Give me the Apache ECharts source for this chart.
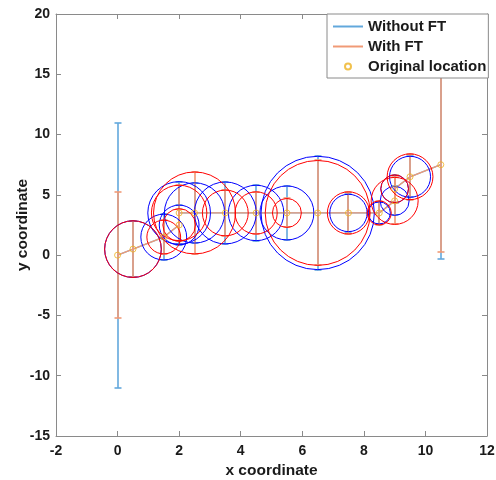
<!DOCTYPE html>
<html><head><meta charset="utf-8">
<script src="https://cdn.jsdelivr.net/npm/echarts@6/dist/echarts.min.js"></script>
<style>html,body{margin:0;padding:0;background:#fff}#c{width:496px;height:480px}</style>
</head><body><div id="c"></div>
<script>
// Original locations
const xs = [0, 0.5, 1.5, 2, 2, 2.5, 3.5, 4.5, 5.5, 6.5, 7.5, 8.5, 9, 9, 9.5, 10.5];
const ys = [0, 0.5, 1.5, 2.5, 3.5, 3.5, 3.5, 3.5, 3.5, 3.5, 3.5, 3.5, 4.5, 5.5, 6.5, 7.5];
// Error (half length) of the vertical bars
const errWithout = [11, 2.35, 1.9, 1.65, 2.6, 2.5, 2.57, 2.3, 2.24, 4.7, 1.55, 0.92, 1.2, 1.15, 1.7, 7.84];
const errWith    = [5.25, 2.35, 1.4, 1.35, 2.3, 3.4, 1.9, 1.75, 1.2, 4.35, 1.75, 1.0, 1.95, 1.15, 1.9, 7.27];
// Circle radii (in y units), none at the two end points
const radWithout = [null, 2.35, 1.9, 1.65, 2.6, 2.5, 2.57, 2.3, 2.24, 4.7, 1.55, 0.92, 1.2, 1.15, 1.7, null];
const radWith    = [null, 2.35, 1.4, 1.35, 2.3, 3.4, 1.9, 1.75, 1.2, 4.35, 1.75, 1.0, 1.95, 1.15, 1.9, null];

const BLUE_EB = '#62a8dc';
const ORANGE_EB = '#f09a76';
const AXIS_C = '#8a8a8a';
const TXT_C = '#1a1a1a';
const FONT = 'Liberation Sans, Arial, sans-serif';

const pts = xs.map((x, i) => [x, ys[i]]);
const ebData = (err) => xs.map((x, i) => [x, ys[i], err[i]]);
const circData = (rad) => xs.map((x, i) => [x, ys[i], rad[i]]).filter(d => d[2] != null);

function errRender(color) {
  return function (params, api) {
    const x = api.value(0), y = api.value(1), e = api.value(2);
    const t = api.coord([x, y + e]);
    const b = api.coord([x, y - e]);
    const px = Math.round(t[0]), ty = Math.round(t[1]), by = Math.round(b[1]);
    const cw = 3.5;
    const st = { stroke: color, lineWidth: 1.6, fill: null };
    return { type: 'group', children: [
      { type: 'line', shape: { x1: px, y1: ty, x2: px, y2: by }, style: st },
      { type: 'line', shape: { x1: px - cw, y1: ty, x2: px + cw, y2: ty }, style: st },
      { type: 'line', shape: { x1: px - cw, y1: by, x2: px + cw, y2: by }, style: st }
    ]};
  };
}
function circRender(color) {
  return function (params, api) {
    const c = api.coord([api.value(0), api.value(1)]);
    const r = api.size([0, api.value(2)])[1];
    return { type: 'circle', shape: { cx: c[0], cy: c[1], r: r }, style: { fill: null, stroke: color, lineWidth: 1 } };
  };
}

const baseAxis = {
  type: 'value',
  axisLine: { show: true, onZero: false, lineStyle: { color: AXIS_C, width: 1 } },
  axisTick: { show: true, inside: true, length: 5, lineStyle: { color: AXIS_C } },
  splitLine: { show: false }
};

const chart = echarts.init(document.getElementById('c'), null, { renderer: 'canvas' });
chart.setOption({
  animation: false,
  backgroundColor: '#fff',
  grid: { left: 56, right: 9, top: 14, bottom: 44, containLabel: false, outerBoundsMode: 'none' },
  xAxis: [
    Object.assign({}, baseAxis, {
      min: -2, max: 12, interval: 2, position: 'bottom',
      axisLabel: { color: TXT_C, fontWeight: 'bold', fontSize: 14, fontFamily: FONT, margin: 8 },
      name: 'x coordinate', nameLocation: 'middle', nameGap: 27, nameMoveOverlap: false,
      nameTextStyle: { color: TXT_C, fontWeight: 'bold', fontSize: 15.5, fontFamily: FONT }
    }),
    Object.assign({}, baseAxis, { min: -2, max: 12, interval: 2, position: 'top', axisLabel: { show: false } })
  ],
  yAxis: [
    Object.assign({}, baseAxis, {
      min: -15, max: 20, interval: 5, position: 'left',
      axisLabel: { color: TXT_C, fontWeight: 'bold', fontSize: 14, fontFamily: FONT, margin: 6 },
      name: 'y coordinate', nameLocation: 'middle', nameGap: 25, nameRotate: 90, nameMoveOverlap: false,
      nameTextStyle: { color: TXT_C, fontWeight: 'bold', fontSize: 15.5, fontFamily: FONT }
    }),
    Object.assign({}, baseAxis, { min: -15, max: 20, interval: 5, position: 'right', axisLabel: { show: false } })
  ],
  legend: {
    orient: 'vertical', left: 327, top: 14,
    padding: [5, 2, 4, 5], itemGap: 5, itemWidth: 30, itemHeight: 6,
    backgroundColor: '#fff', borderColor: AXIS_C, borderWidth: 1, borderRadius: 0,
    textStyle: { color: TXT_C, fontWeight: 'bold', fontSize: 15, fontFamily: FONT },
    data: [
      { name: 'Without FT', itemStyle: { opacity: 0 } },
      { name: 'With FT', itemStyle: { opacity: 0 } },
      'Original location'
    ]
  },
  series: [
    { name: 'eb-without', type: 'custom', renderItem: errRender(BLUE_EB), data: ebData(errWithout), encode: { x: 0, y: 1 }, z: 2 },
    { name: 'Without FT', type: 'line', data: pts, symbol: 'none', lineStyle: { color: BLUE_EB, width: 1.3 }, itemStyle: { color: BLUE_EB }, z: 2 },
    { name: 'eb-with', type: 'custom', renderItem: errRender(ORANGE_EB), data: ebData(errWith), encode: { x: 0, y: 1 }, z: 3 },
    { name: 'With FT', type: 'line', data: pts, symbol: 'none', lineStyle: { color: ORANGE_EB, width: 1.3 }, itemStyle: { color: ORANGE_EB }, z: 3 },
    { name: 'circ-without', type: 'custom', renderItem: circRender('#0000ff'), data: circData(radWithout), encode: { x: 0, y: 1 }, z: 4 },
    { name: 'circ-with', type: 'custom', renderItem: circRender('#ff0000'), data: circData(radWith), encode: { x: 0, y: 1 }, z: 4 },
    { name: 'Original location', type: 'scatter', data: pts, symbol: 'circle', symbolSize: 6,
      itemStyle: { color: 'rgba(255,255,255,0)', borderColor: '#EDB120', borderWidth: 1 }, z: 5 }
  ]
});
</script></body></html>
